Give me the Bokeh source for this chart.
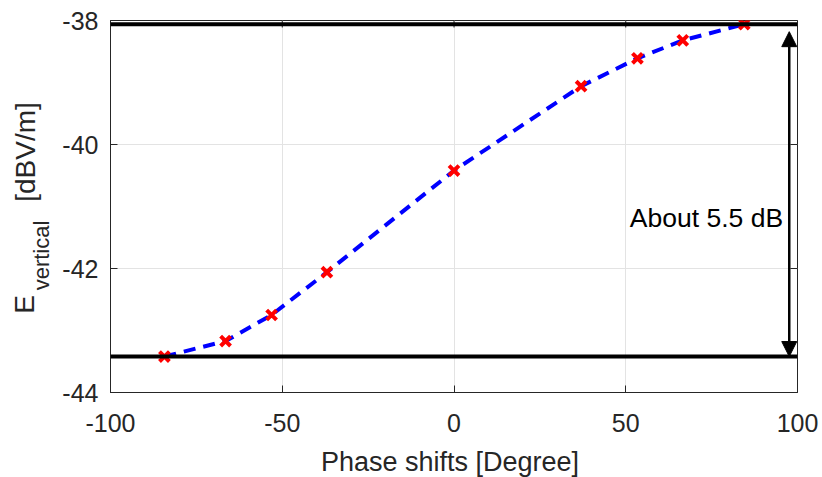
import math
from bokeh.plotting import figure
from bokeh.layouts import row, column
from bokeh.models import Range1d, FixedTicker, Span, Arrow, NormalHead, Label
from bokeh.core.properties import value
from bokeh.embed import file_html
from bokeh.resources import INLINE

# ---- data ----
phase_deg = [-84.3, -66.5, -53.1, -37.0, 0.0, 37.0, 53.4, 66.6, 84.5]
e_vertical = [-43.42, -43.17, -42.75, -42.06, -40.42, -39.06, -38.61, -38.32, -38.06]
x_ticks = [-100, -50, 0, 50, 100]
y_ticks = [-44, -42, -40, -38]
x_label = ["Phase shifts [Degree]"]
y_label_parts = ["E", "vertical", "[dBV/m]"]
note_text = "About 5.5 dB"
arrow_x = 97.6
arrow_top = -38.18
arrow_bottom = -43.42

FONT = "Liberation Sans"
AX = "#262626"
W_TOTAL, H_TOTAL = 822, 477
W_YLAB = 58
H_MAIN = 445

# ---------------- main plot ----------------
p = figure(width=W_TOTAL - W_YLAB, height=H_MAIN, output_backend="svg", toolbar_location=None,
           x_range=Range1d(-100, 100), y_range=Range1d(-44, -38),
           min_border_left=110 - W_YLAB, min_border_right=25, min_border_top=20, min_border_bottom=53,
           background_fill_color="white", border_fill_color="white")
p.outline_line_color = AX

for ax in (p.xaxis[0], p.yaxis[0]):
    ax.major_tick_in = 7
    ax.major_tick_out = 0
    ax.minor_tick_line_color = None
    ax.axis_line_color = AX
    ax.major_tick_line_color = AX
    ax.major_label_text_font = FONT
    ax.major_label_text_font_size = "25px"
    ax.major_label_text_color = AX
p.xaxis[0].ticker = FixedTicker(ticks=x_ticks)
p.yaxis[0].ticker = FixedTicker(ticks=y_ticks)
p.xaxis[0].major_label_overrides = {t: str(t) for t in x_ticks}
p.yaxis[0].major_label_overrides = {t: str(t) for t in y_ticks}
p.xaxis[0].major_label_standoff = 21
p.yaxis[0].major_label_standoff = 12

p.xgrid.ticker = FixedTicker(ticks=x_ticks)
p.ygrid.ticker = FixedTicker(ticks=y_ticks)
p.xgrid.grid_line_color = "#e3e3e3"
p.ygrid.grid_line_color = "#e3e3e3"

# inward ticks on the top and right edges (half of each dash is clipped away by the frame)
p.scatter(x_ticks, [p.y_range.end] * len(x_ticks), marker="dash", angle=math.pi / 2,
          size=14, line_color=AX, line_width=1)
p.scatter([p.x_range.end] * len(y_ticks), y_ticks, marker="dash",
          size=14, line_color=AX, line_width=1)

# curve and points
p.line(phase_deg, e_vertical, line_color="#0000ff", line_width=4, line_dash="12 8")
p.scatter(phase_deg, e_vertical, marker="x", size=14, line_color="#ff0000", line_width=4)

# reference levels (max and min of the data)
for lvl in (max(e_vertical), min(e_vertical)):
    p.add_layout(Span(location=lvl, dimension="width", line_color="black", line_width=4))

# double arrow
p.add_layout(Arrow(start=NormalHead(size=15, fill_color="black", line_color="black"),
                   end=NormalHead(size=15, fill_color="black", line_color="black"),
                   x_start=arrow_x, y_start=arrow_bottom, x_end=arrow_x, y_end=arrow_top,
                   line_color="black", line_width=2.5))

p.add_layout(Label(x=95.8, y=-41.19, text=note_text, text_align="right", text_baseline="middle",
                   text_font=FONT, text_font_size="26.5px", text_color="black"))

# ---------------- y-axis label panel (frame is aligned with the main frame) ----------------
ylab = figure(width=W_YLAB, height=H_MAIN, output_backend="svg", toolbar_location=None,
              x_range=Range1d(0, W_YLAB), y_range=p.y_range,
              x_axis_location=None, y_axis_location=None,
              min_border=0, background_fill_color="white", border_fill_color="white")
ylab.outline_line_color = None
ylab.grid.visible = False
yl_x = [24.0, 41.0, 25.0]               # text middles (px from left)
yl_y = [-42.58, -41.79, -40.12]         # text centres on the value scale
yl_size = ["28px", "22px", "28px"]
for t, xx, yy, sz in zip(y_label_parts, yl_x, yl_y, yl_size):
    ylab.text(x=[xx], y=[yy], text=[t], angle=math.pi / 2, text_align="center",
              text_baseline="middle", text_font=value(FONT), text_font_size=value(sz),
              text_color=AX)

# ---------------- x-axis label panel ----------------
H_XLAB = H_TOTAL - H_MAIN
xlab = figure(width=W_TOTAL, height=H_XLAB, output_backend="svg", toolbar_location=None,
              x_range=Range1d(0, W_TOTAL), y_range=Range1d(0, H_XLAB),
              x_axis_location=None, y_axis_location=None,
              min_border=0, background_fill_color="white", border_fill_color="white")
xlab.outline_line_color = None
xlab.grid.visible = False
xlab.text(x=[449.5], y=[H_TOTAL - 461], text=x_label, text_align="center",
          text_baseline="middle", text_font=value(FONT), text_font_size=value("27px"),
          text_color=AX)

layout = column(row(ylab, p, spacing=0), xlab, spacing=0)
open("out.html", "w").write(file_html(layout, INLINE))
